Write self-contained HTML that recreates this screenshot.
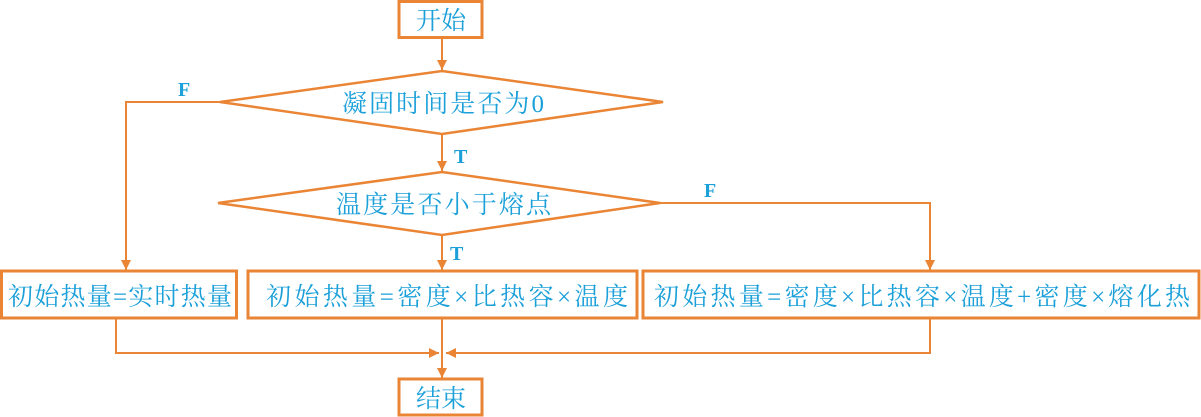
<!DOCTYPE html>
<html><head><meta charset="utf-8"><style>
html,body{margin:0;padding:0;background:#fff;}
svg{display:block}
text{font-family:"Liberation Serif","Noto Serif CJK SC","Noto Sans CJK SC",serif;fill:#1ba0d9;font-size:25px;}
.l{font-family:"Liberation Serif",serif;font-weight:bold;font-size:20px;}
</style></head><body>
<svg width="1201" height="417" viewBox="0 0 1201 417" xmlns="http://www.w3.org/2000/svg">
<defs><marker id="a" markerWidth="10" markerHeight="12" refX="10" refY="6" orient="auto" markerUnits="userSpaceOnUse"><path d="M0,1 L10,6 L0,11 Z" fill="#ea8535"/></marker></defs>
<g stroke="#ea8535" fill="none">
<rect x="399" y="1.5" width="83" height="36" stroke-width="3"/>
<rect x="399" y="379" width="83" height="36" stroke-width="3"/>
<rect x="1.5" y="271" width="235" height="47" stroke-width="3"/>
<rect x="248" y="271" width="389" height="47" stroke-width="3"/>
<rect x="643" y="271" width="556" height="47" stroke-width="3"/>
<polygon points="442,71 663,102 442,134 220,102" stroke-width="2.5"/>
<polygon points="442,172 660,203 442,235 218,203" stroke-width="2.5"/>
<g stroke-width="2">
<line x1="442" y1="38" x2="442" y2="70" marker-end="url(#a)"/>
<line x1="442" y1="134" x2="442" y2="171" marker-end="url(#a)"/>
<line x1="442" y1="235" x2="442" y2="270" marker-end="url(#a)"/>
<polyline points="220,102 126,102 126,270" marker-end="url(#a)"/>
<polyline points="660,203 930,203 930,270" marker-end="url(#a)"/>
<line x1="442" y1="318" x2="442" y2="378" marker-end="url(#a)"/>
<polyline points="116,318 116,353 439,353" marker-end="url(#a)"/>
<polyline points="930,318 930,353 446,353" marker-end="url(#a)"/>
</g></g>
<text x="416" y="29" textLength="50" lengthAdjust="spacing">开始</text>
<text x="416" y="407" textLength="50" lengthAdjust="spacing">结束</text>
<text x="342" y="112" textLength="202" lengthAdjust="spacing">凝固时间是否为0</text>
<text x="336" y="213" textLength="215" lengthAdjust="spacing">温度是否小于熔点</text>
<text x="8" y="305" textLength="224" lengthAdjust="spacing">初始热量=实时热量</text>
<text x="266" y="305" textLength="362" lengthAdjust="spacing">初始热量=密度×比热容×温度</text>
<text x="654" y="305" textLength="536" lengthAdjust="spacing">初始热量=密度×比热容×温度+密度×熔化热</text>
<text class="l" x="178" y="96">F</text>
<text class="l" x="704" y="197">F</text>
<text class="l" x="454" y="163">T</text>
<text class="l" x="450" y="260">T</text>
</svg>
</body></html>
